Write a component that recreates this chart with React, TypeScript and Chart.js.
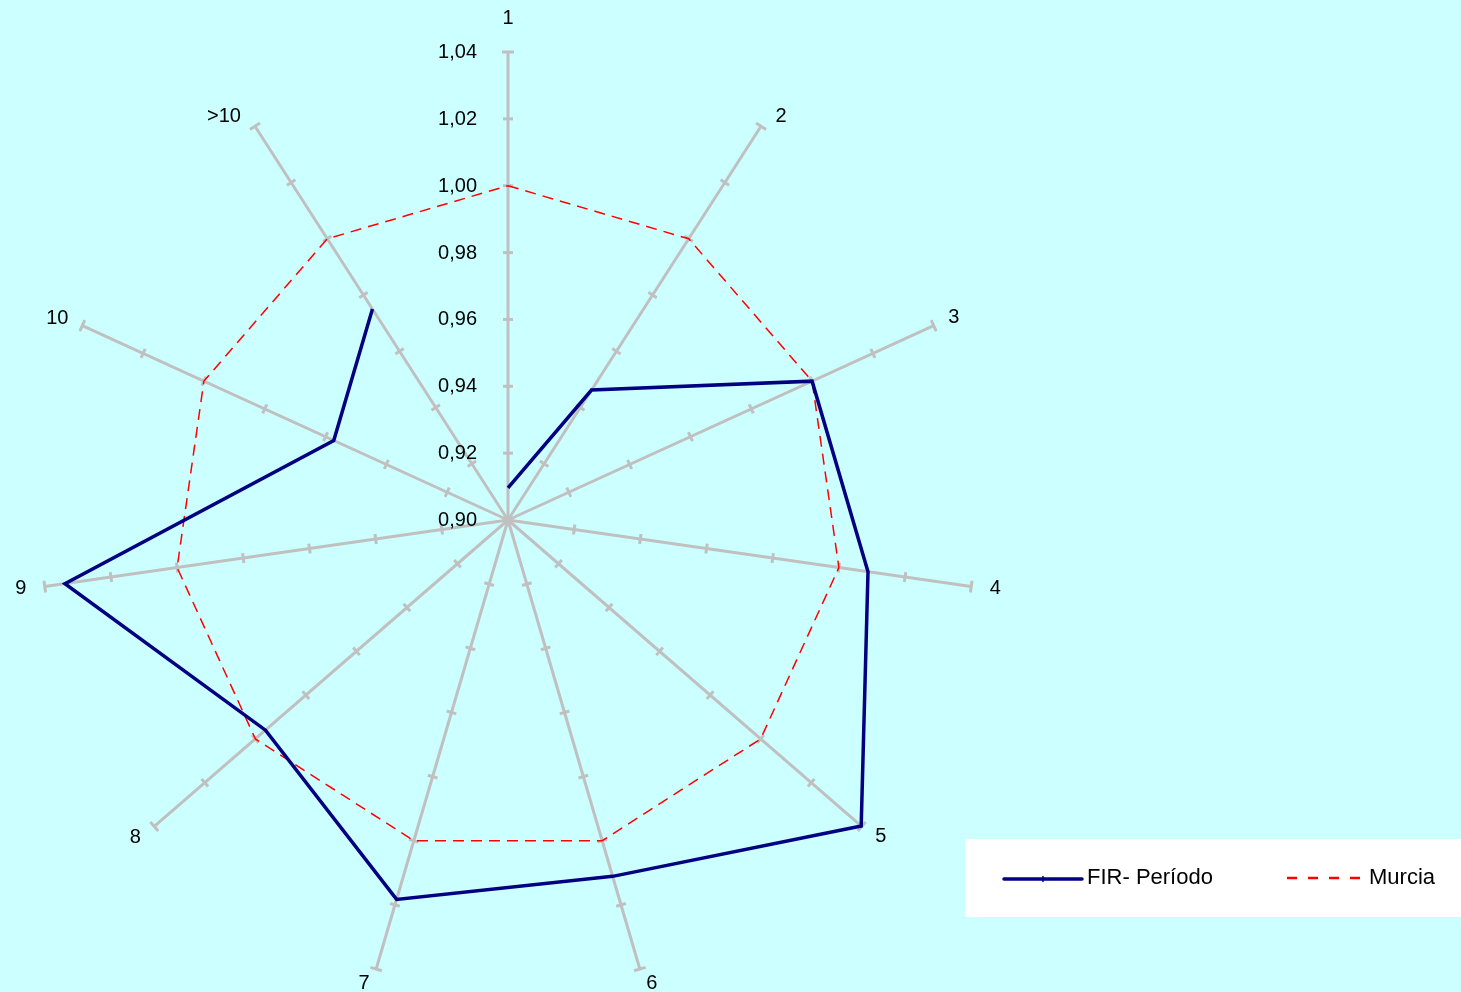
import React, { useEffect, useRef } from "react";
import { Chart, registerables } from "chart.js";

Chart.register(...registerables);

// ---------------- data ----------------
const categories: string[] = ["1", "2", "3", "4", "5", "6", "7", "8", "9", "10", ">10"];

const firSeriesName = "FIR- Período";
const firValues: number[] = [0.9096, 0.9462, 1.0, 1.0088, 1.0398, 1.0111, 1.0183, 0.996, 1.0339, 0.9573, 0.975];

const murciaSeriesName = "Murcia";
const murciaValues: number[] = [1.0, 1.0, 1.0, 1.0, 1.0, 1.0, 1.0, 1.0, 1.0, 1.0, 1.0];

const axisMin = 0.9;
const axisMax = 1.04;
const axisStep = 0.02;
const tickLabels: string[] = ["0,90", "0,92", "0,94", "0,96", "0,98", "1,00", "1,02", "1,04"];

// ---------------- style ----------------
const BG = "#CCFFFF";
const AXIS_COLOR = "#C0C0C0";
const FIR_COLOR = "#000080";
const MURCIA_COLOR = "#FF0000";
const FONT = "Arial, 'Liberation Sans', Helvetica, sans-serif";
// offset of each category label from the end of its axis (px)
const labelNudge: [number, number][] = [
  [0, -35], [20, -11], [20, -10], [24, 0], [19, 9], [12, 13],
  [-12, 13], [-19, 9.5], [-24, 0], [-25, -9], [-31, -11],
];
// stroke width of each Murcia dashed segment (segment i goes from category i to i+1)
const murciaSegmentWidths: number[] = [2, 1.2, 1.5, 2, 1, 1.5, 1.2, 1, 1.8, 3.2, 2];

const excelRadarPlugin = {
  id: "excelRadar",
  beforeDatasetsDraw(chart: any) {
    const scale = chart.scales.r;
    const ctx = chart.ctx as CanvasRenderingContext2D;
    const xc = scale.xCenter;
    const yc = scale.yCenter;
    const n = categories.length;
    const outer = scale.getDistanceFromCenterForValue(axisMax);
    ctx.save();
    ctx.strokeStyle = AXIS_COLOR;
    ctx.lineWidth = 3;
    ctx.lineCap = "butt";
    for (let i = 0; i < n; i++) {
      const end = scale.getPointPosition(i, outer);
      ctx.beginPath();
      ctx.moveTo(xc, yc);
      ctx.lineTo(end.x, end.y);
      ctx.stroke();
      const len = Math.hypot(end.x - xc, end.y - yc);
      const ux = (end.x - xc) / len;
      const uy = (end.y - yc) / len;
      const px = -uy;
      const py = ux;
      tickLabels.forEach((_, k) => {
        if (k === 0) return;
        const v = axisMin + k * axisStep;
        const p = scale.getPointPosition(i, scale.getDistanceFromCenterForValue(v));
        const h = k === tickLabels.length - 1 ? 6 : 5;
        ctx.beginPath();
        ctx.moveTo(p.x - px * h, p.y - py * h);
        ctx.lineTo(p.x + px * h, p.y + py * h);
        ctx.stroke();
      });
    }
    // value labels on the first axis
    ctx.fillStyle = "#000000";
    ctx.font = `20px ${FONT}`;
    ctx.textAlign = "right";
    ctx.textBaseline = "alphabetic";
    tickLabels.forEach((t, k) => {
      const v = axisMin + k * axisStep;
      const p = scale.getPointPosition(0, scale.getDistanceFromCenterForValue(v));
      ctx.fillText(t, p.x - 31, p.y + 6);
    });
    // category labels
    ctx.textAlign = "center";
    categories.forEach((c, i) => {
      const end = scale.getPointPosition(i, outer);
      ctx.fillText(c, end.x + labelNudge[i][0], end.y + labelNudge[i][1] + 7);
    });
    ctx.restore();
  },
  afterDraw(chart: any) {
    const ctx = chart.ctx as CanvasRenderingContext2D;
    ctx.save();
    ctx.fillStyle = "#FFFFFF";
    ctx.fillRect(965, 839, 496, 78);
    // FIR entry
    ctx.strokeStyle = FIR_COLOR;
    ctx.lineWidth = 3.5;
    ctx.lineCap = "round";
    ctx.beginPath();
    ctx.moveTo(1004, 879);
    ctx.lineTo(1082, 879);
    ctx.stroke();
    ctx.lineWidth = 1.5;
    ctx.beginPath();
    ctx.moveTo(1043, 876.5);
    ctx.lineTo(1043, 881.5);
    ctx.stroke();
    // Murcia entry
    ctx.strokeStyle = MURCIA_COLOR;
    ctx.lineWidth = 2.5;
    ctx.lineCap = "butt";
    ctx.setLineDash([10, 11]);
    ctx.beginPath();
    ctx.moveTo(1287, 878);
    ctx.lineTo(1362, 878);
    ctx.stroke();
    ctx.setLineDash([]);
    ctx.fillStyle = "#000000";
    ctx.font = `22px ${FONT}`;
    ctx.textAlign = "left";
    ctx.textBaseline = "alphabetic";
    ctx.fillText(firSeriesName, 1087, 884);
    ctx.fillText(murciaSeriesName, 1369, 884);
    ctx.restore();
  },
};

export default function App() {
  const ref = useRef<HTMLCanvasElement | null>(null);
  useEffect(() => {
    const canvas = ref.current;
    if (!canvas) return;
    const chart = new Chart(canvas, {
      type: "radar",
      data: {
        labels: categories,
        datasets: [
          {
            label: firSeriesName,
            // trailing null keeps the FIR polyline open (no closing edge), as in the original
            data: [...firValues, null],
            borderColor: FIR_COLOR,
            backgroundColor: "transparent",
            borderWidth: 3.5,
            borderJoinStyle: "miter",
            pointRadius: 0,
            pointHoverRadius: 0,
            fill: false,
            tension: 0,
            spanGaps: false,
          },
          {
            label: murciaSeriesName,
            data: murciaValues,
            borderColor: MURCIA_COLOR,
            backgroundColor: "transparent",
            borderWidth: 1.5,
            borderDash: [11, 7],
            pointRadius: 0,
            pointHoverRadius: 0,
            fill: false,
            tension: 0,
            segment: {
              borderWidth: (c: any) => murciaSegmentWidths[c.p0DataIndex],
            },
          },
        ],
      },
      options: {
        responsive: false,
        maintainAspectRatio: false,
        animation: false,
        events: [],
        layout: { padding: { left: 40, top: 52, right: 485, bottom: 4 } },
        plugins: {
          legend: { display: false },
          tooltip: { enabled: false },
          title: { display: false },
        },
        scales: {
          r: {
            min: axisMin,
            max: axisMax,
            beginAtZero: false,
            ticks: { display: false, stepSize: axisStep },
            grid: { display: false },
            angleLines: { display: false },
            pointLabels: { display: false },
          },
        },
      } as any,
      plugins: [excelRadarPlugin],
    } as any);
    return () => chart.destroy();
  }, []);

  return (
    <div
      style={{
        position: "absolute",
        left: 0,
        top: 0,
        width: 1461,
        height: 992,
        background: BG,
        overflow: "hidden",
      }}
    >
      <canvas ref={ref} width={1461} height={992} style={{ display: "block", width: 1461, height: 992 }} />
    </div>
  );
}
